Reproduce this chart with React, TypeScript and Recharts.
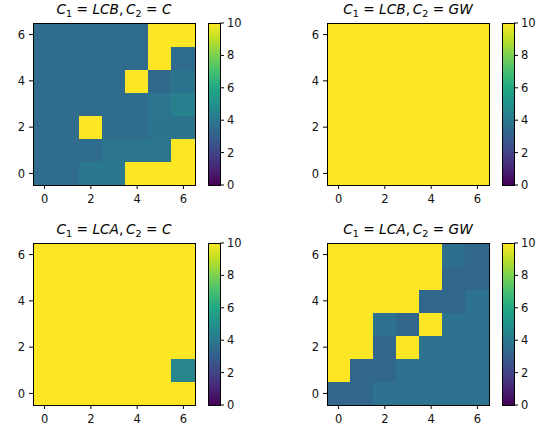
import React from 'react';
import { BarChart, Bar, Cell, XAxis, YAxis } from 'recharts';

// grid coordinates (columns along x, rows along y, row 0 at the bottom)
const xCats = [0, 1, 2, 3, 4, 5, 6];
const yRows = [0, 1, 2, 3, 4, 5, 6];
const axisTicks = [0, 2, 4, 6];
const cbarTicks = [0, 2, 4, 6, 8, 10];

// one matrix per panel, rows listed from y=0 upwards
const lcbC = [
    [3.5, 3.5, 4.0, 4.0, 10, 10, 10],
    [3.5, 3.5, 3.5, 3.9, 3.9, 3.9, 10],
    [3.5, 3.5, 10, 3.5, 3.5, 3.8, 3.8],
    [3.5, 3.5, 3.5, 3.5, 3.5, 3.9, 4.3],
    [3.5, 3.5, 3.5, 3.5, 10, 3.4, 3.8],
    [3.5, 3.5, 3.5, 3.5, 3.5, 10, 3.5],
    [3.5, 3.5, 3.5, 3.5, 3.5, 10, 10],
];
const lcbGW = yRows.map(() => xCats.map(() => 10));
const lcaC = [
    [10, 10, 10, 10, 10, 10, 10],
    [10, 10, 10, 10, 10, 10, 4.5],
    [10, 10, 10, 10, 10, 10, 10],
    [10, 10, 10, 10, 10, 10, 10],
    [10, 10, 10, 10, 10, 10, 10],
    [10, 10, 10, 10, 10, 10, 10],
    [10, 10, 10, 10, 10, 10, 10],
];
const lcaGW = [
    [3.3, 3.3, 3.75, 3.75, 3.75, 3.75, 3.75],
    [10, 3.3, 3.3, 3.75, 3.75, 3.75, 3.75],
    [10, 10, 3.3, 10, 3.75, 3.75, 3.75],
    [10, 10, 3.75, 3.3, 10, 3.75, 3.75],
    [10, 10, 10, 10, 3.3, 3.3, 3.75],
    [10, 10, 10, 10, 10, 3.3, 3.3],
    [10, 10, 10, 10, 10, 3.65, 3.3],
];

const panels = [
    { c1: 'LCB', c2: 'C', values: lcbC },
    { c1: 'LCB', c2: 'GW', values: lcbGW },
    { c1: 'LCA', c2: 'C', values: lcaC },
    { c1: 'LCA', c2: 'GW', values: lcaGW },
];

const vmin = 0;
const vmax = 10;

const viridisStops = [
    '#440154', '#482475', '#414487', '#355f8d', '#2a788e', '#21918c',
    '#22a884', '#44bf70', '#7ad151', '#bddf26', '#fde725',
];

const hexToRgb = (h: string) => [1, 3, 5].map((i) => parseInt(h.slice(i, i + 2), 16));

const viridis = (v: number) => {
    const t = Math.min(1, Math.max(0, (v - vmin) / (vmax - vmin))) * (viridisStops.length - 1);
    const i = Math.min(viridisStops.length - 2, Math.floor(t));
    const f = t - i;
    const a = hexToRgb(viridisStops[i]);
    const b = hexToRgb(viridisStops[i + 1]);
    const c = a.map((av, k) => Math.round(av + (b[k] - av) * f));
    return `rgb(${c[0]},${c[1]},${c[2]})`;
};

const FONT = '"DejaVu Sans", sans-serif';
const PLOT = 162;
const Y_AXIS_W = 33;
const CB_PAD = 10;
const TICK_STYLE = { fontSize: 11.5, fill: '#111', fontFamily: FONT };

const Heatmap: React.FC<{ values: number[][] }> = ({ values }) => {
    const data = xCats.map((x) => {
        const row: Record<string, number> = { x };
        yRows.forEach((y) => { row[`r${y}`] = 1; });
        return row;
    });
    return (
        <BarChart
            width={Y_AXIS_W + PLOT}
            height={PLOT + 26}
            data={data}
            margin={{ top: 0, right: 0, bottom: 0, left: 0 }}
            barCategoryGap={0}
            barGap={0}
        >
            <XAxis
                dataKey="x"
                interval={1}
                height={26}
                tickSize={4}
                tickMargin={6}
                axisLine={false}
                tickLine={{ stroke: '#000' }}
                tick={TICK_STYLE}
            />
            <YAxis
                type="number"
                domain={[0, yRows.length]}
                ticks={axisTicks.map((t) => t + 0.5)}
                tickFormatter={(v: number) => String(v - 0.5)}
                interval={0}
                width={Y_AXIS_W}
                tickSize={4}
                tickMargin={4}
                axisLine={false}
                tickLine={{ stroke: '#000' }}
                tick={TICK_STYLE}
            />
            {yRows.map((y) => (
                <Bar key={y} dataKey={`r${y}`} stackId="grid" isAnimationActive={false}>
                    {xCats.map((x) => {
                        const fill = viridis(values[y][x]);
                        return (
                            <Cell
                                key={x}
                                fill={fill}
                                stroke={fill}
                                strokeWidth={1}
                                shapeRendering="crispEdges"
                            />
                        );
                    })}
                </Bar>
            ))}
        </BarChart>
    );
};

const Colorbar: React.FC = () => (
    <BarChart
        width={12 + 34}
        height={PLOT + 2 * CB_PAD}
        data={[{ name: 'cbar', v: vmax }]}
        margin={{ top: CB_PAD, right: 0, bottom: CB_PAD, left: 0 }}
        barCategoryGap={0}
    >
        <XAxis dataKey="name" hide />
        <YAxis
            type="number"
            orientation="right"
            domain={[vmin, vmax]}
            ticks={cbarTicks}
            interval={0}
            width={34}
            tickSize={4}
            tickMargin={3}
            axisLine={false}
            tickLine={{ stroke: '#000' }}
            tick={{ ...TICK_STYLE, textAnchor: 'start' }}
        />
        <Bar dataKey="v" fill="url(#viridisGrad)" isAnimationActive={false} />
    </BarChart>
);

const Title: React.FC<{ c1: string; c2: string }> = ({ c1, c2 }) => {
    const sub = { fontSize: '0.7em', position: 'relative' as const, top: '0.3em', lineHeight: 0 };
    return (
        <span>
            <i>C</i><span style={sub}>1</span> = <i>{c1}</i>,{'\u2009'}<i>C</i><span style={sub}>2</span> = <i>{c2}</i>
        </span>
    );
};

export default function App() {
    const origins = [
        { px: 33, py: 23 },
        { px: 327, py: 23 },
        { px: 33, py: 243 },
        { px: 327, py: 243 },
    ];
    return (
        <div style={{ position: 'absolute', left: 0, top: 0, width: 543, height: 428, background: '#fff', fontFamily: FONT }}>
            <svg width={0} height={0} style={{ position: 'absolute' }}>
                <defs>
                    <linearGradient id="viridisGrad" x1="0" y1="1" x2="0" y2="0">
                        {viridisStops.map((c, i) => (
                            <stop key={i} offset={i / (viridisStops.length - 1)} stopColor={c} />
                        ))}
                    </linearGradient>
                </defs>
            </svg>
            {panels.map((p, i) => {
                const { px, py } = origins[i];
                return (
                    <React.Fragment key={i}>
                        <div style={{ position: 'absolute', left: px, top: py - 22, width: PLOT, textAlign: 'center', fontSize: 13.7, color: '#000', whiteSpace: 'nowrap' }}>
                            <Title c1={p.c1} c2={p.c2} />
                        </div>
                        <div style={{ position: 'absolute', left: px - Y_AXIS_W, top: py }}>
                            <Heatmap values={p.values} />
                        </div>
                        <div style={{ position: 'absolute', left: px - 0.5, top: py - 0.5, width: PLOT + 1, height: PLOT + 1, border: '1px solid #000', boxSizing: 'border-box', pointerEvents: 'none' }} />
                        <div style={{ position: 'absolute', left: px + 175, top: py - CB_PAD }}>
                            <Colorbar />
                        </div>
                        <div style={{ position: 'absolute', left: px + 174.5, top: py - 0.5, width: 13, height: PLOT + 1, border: '1px solid #000', boxSizing: 'border-box', pointerEvents: 'none' }} />
                    </React.Fragment>
                );
            })}
        </div>
    );
}
